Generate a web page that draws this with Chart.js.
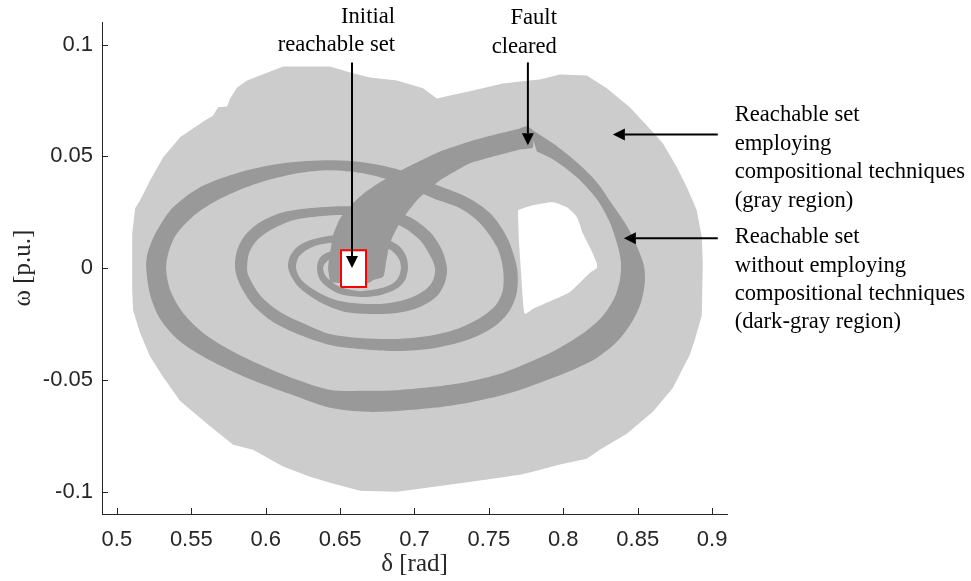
<!DOCTYPE html>
<html>
<head>
<meta charset="utf-8">
<script src="https://cdn.jsdelivr.net/npm/chart.js@4.4.1/dist/chart.umd.min.js"></script>
<style>
html, body { margin: 0; padding: 0; background: #ffffff; }
canvas { display: block; }
</style>
</head>
<body>
<canvas id="phase" width="971" height="581"></canvas>
<script>
// Axis ticks
const deltaTicks = [0.5, 0.55, 0.6, 0.65, 0.7, 0.75, 0.8, 0.85, 0.9];
const deltaTickLabels = ['0.5', '0.55', '0.6', '0.65', '0.7', '0.75', '0.8', '0.85', '0.9'];
const omegaTicks = [-0.1, -0.05, 0, 0.05, 0.1];
const omegaTickLabels = ['-0.1', '-0.05', '0', '0.05', '0.1'];

// Reachable set obtained with compositional techniques: outline (delta, omega)
const compositionalSet = [
  [0.6117,0.0902],[0.6433,0.0902],[0.6567,0.0875],[0.6701,0.0853],[0.6882,0.0839],[0.7057,0.0804],
  [0.7151,0.0759],[0.7239,0.0772],[0.7393,0.0795],[0.7594,0.0826],[0.7708,0.0835],[0.7842,0.0844],
  [0.7977,0.0866],[0.8158,0.0862],[0.8292,0.0804],[0.8447,0.0719],[0.8561,0.0638],[0.8669,0.0558],
  [0.8763,0.0451],[0.8830,0.0362],[0.8897,0.0259],[0.8931,0.0138],[0.8937,0.0013],[0.8931,-0.0210],
  [0.8884,-0.0321],[0.8850,-0.0388],[0.8736,-0.0536],[0.8602,-0.0643],[0.8427,-0.0741],[0.8245,-0.0813],
  [0.8158,-0.0853],[0.7977,-0.0879],[0.7795,-0.0911],[0.7708,-0.0924],[0.7487,-0.0946],[0.7259,-0.0967],
  [0.6882,-0.1000],[0.6634,-0.0996],[0.6433,-0.0960],[0.6298,-0.0933],[0.6117,-0.0888],[0.5915,-0.0813],
  [0.5781,-0.0790],[0.5606,-0.0696],[0.5425,-0.0594],[0.5311,-0.0487],[0.5224,-0.0397],[0.5156,-0.0290],
  [0.5109,-0.0188],[0.5103,-0.0098],[0.5103,0.0156],[0.5123,0.0268],[0.5156,0.0304],[0.5224,0.0393],
  [0.5311,0.0496],[0.5425,0.0585],[0.5573,0.0652],[0.5647,0.0683],[0.5680,0.0719],[0.5741,0.0723],
  [0.5761,0.0759],[0.5808,0.0808],[0.5875,0.0839]
];
// Unreached pocket inside the compositional set
const compositionalHole = [
  [0.7695,0.0259],[0.7795,0.0281],[0.7930,0.0295],[0.8024,0.0272],[0.8091,0.0228],[0.8131,0.0156],
  [0.8178,0.0094],[0.8225,0.0022],[0.8225,0.0000],[0.8178,-0.0022],[0.8044,-0.0107],[0.7930,-0.0143],
  [0.7795,-0.0183],[0.7742,-0.0205],[0.7728,-0.0143],[0.7715,-0.0009],[0.7701,0.0125]
];

// Reachable set without compositional techniques (dark gray)
// fault-on part, from the initial set up to fault clearing
const faultOnBand = [
  [0.6433,-0.0063],[0.6419,0.0000],[0.6433,0.0067],[0.6453,0.0147],[0.6500,0.0223],[0.6580,0.0286],
  [0.6668,0.0339],[0.6768,0.0384],[0.6950,0.0451],[0.7172,0.0522],[0.7393,0.0571],[0.7574,0.0603],
  [0.7708,0.0625],[0.7755,0.0634],[0.7795,0.0616],[0.7795,0.0540],[0.7708,0.0531],[0.7554,0.0504],
  [0.7373,0.0469],[0.7172,0.0393],[0.7017,0.0304],[0.6903,0.0205],[0.6835,0.0112],[0.6809,0.0027],
  [0.6788,-0.0040],[0.6567,-0.0071]
];
// post-fault spiral: outer edge, from fault clearing inwards
const spiralOuterEdge = [
  [0.7775,0.0625],[0.7930,0.0558],[0.8091,0.0473],[0.8225,0.0384],[0.8333,0.0281],[0.8427,0.0188],
  [0.8494,0.0098],[0.8541,0.0013],[0.8548,-0.0063],[0.8521,-0.0156],[0.8461,-0.0241],[0.8360,-0.0330],
  [0.8225,-0.0402],[0.8078,-0.0451],[0.7909,-0.0496],[0.7708,-0.0545],[0.7574,-0.0571],[0.7353,-0.0603],
  [0.7125,-0.0625],[0.6903,-0.0638],[0.6681,-0.0643],[0.6433,-0.0625],[0.6164,-0.0563],[0.5942,-0.0509],
  [0.5741,-0.0451],[0.5559,-0.0388],[0.5405,-0.0317],[0.5291,-0.0228],[0.5224,-0.0121],[0.5197,0.0000],
  [0.5203,0.0058],[0.5237,0.0125],[0.5291,0.0192],[0.5378,0.0272],[0.5559,0.0362],[0.5828,0.0429],
  [0.6117,0.0469],[0.6433,0.0482],[0.6654,0.0473],[0.6903,0.0438],[0.7172,0.0366],[0.7353,0.0317],
  [0.7507,0.0246],[0.7621,0.0138],[0.7688,0.0004],
  [0.7688,-0.0107],[0.7641,-0.0188],[0.7541,-0.0259],[0.7373,-0.0317],[0.7138,-0.0357],[0.6882,-0.0371],
  [0.6634,-0.0362],[0.6433,-0.0344],[0.6231,-0.0299],[0.6050,-0.0241],[0.5915,-0.0165],[0.5828,-0.0076],
  [0.5794,0.0000],
  [0.5808,0.0080],[0.5862,0.0147],[0.5962,0.0205],[0.6117,0.0250],[0.6365,0.0272],[0.6567,0.0277],
  [0.6768,0.0268],[0.6970,0.0228],[0.7104,0.0161],[0.7185,0.0080],[0.7218,0.0000],
  [0.7205,-0.0063],[0.7151,-0.0125],[0.7037,-0.0174],[0.6882,-0.0201],[0.6701,-0.0205],[0.6533,-0.0196],
  [0.6419,-0.0170],[0.6298,-0.0125],[0.6204,-0.0071],[0.6151,0.0000],
  [0.6164,0.0054],[0.6218,0.0098],[0.6318,0.0129],[0.6466,0.0147],[0.6634,0.0147],[0.6788,0.0134],
  [0.6889,0.0103],[0.6943,0.0054],[0.6956,0.0000],
  [0.6936,-0.0054],[0.6876,-0.0094],[0.6768,-0.0121],[0.6634,-0.0129],[0.6500,-0.0116],[0.6413,-0.0085],
  [0.6359,-0.0045],[0.6345,0.0000],
  [0.6359,0.0040],[0.6406,0.0067],[0.6500,0.0085],[0.6600,0.0089],[0.6688,0.0076],[0.6741,0.0045],
  [0.6755,0.0000],[0.6735,-0.0045],[0.6674,-0.0071],[0.6600,-0.0080]
];
// post-fault spiral: inner edge, from fault clearing inwards
const spiralInnerEdge = [
  [0.7822,0.0522],[0.7930,0.0487],[0.8091,0.0406],[0.8225,0.0308],[0.8306,0.0214],[0.8360,0.0112],
  [0.8387,0.0027],[0.8380,-0.0054],[0.8340,-0.0138],[0.8253,-0.0223],[0.8125,-0.0295],[0.7950,-0.0366],
  [0.7775,-0.0420],[0.7574,-0.0473],[0.7353,-0.0509],[0.7125,-0.0531],[0.6903,-0.0545],[0.6681,-0.0549],
  [0.6433,-0.0545],[0.6211,-0.0500],[0.5983,-0.0438],[0.5761,-0.0366],[0.5580,-0.0290],[0.5445,-0.0201],
  [0.5358,-0.0098],[0.5331,0.0000],
  [0.5351,0.0080],[0.5405,0.0156],[0.5539,0.0246],[0.5714,0.0317],[0.5942,0.0379],[0.6211,0.0424],
  [0.6433,0.0438],[0.6654,0.0424],[0.6903,0.0379],[0.7125,0.0313],[0.7306,0.0268],[0.7440,0.0201],
  [0.7554,0.0094],[0.7594,0.0000],
  [0.7594,-0.0098],[0.7547,-0.0165],[0.7440,-0.0223],[0.7285,-0.0272],[0.7091,-0.0304],[0.6882,-0.0317],
  [0.6634,-0.0313],[0.6433,-0.0295],[0.6278,-0.0254],[0.6097,-0.0196],[0.5962,-0.0121],[0.5882,-0.0031],
  [0.5875,0.0000],
  [0.5888,0.0067],[0.5942,0.0125],[0.6043,0.0174],[0.6184,0.0214],[0.6365,0.0232],[0.6567,0.0237],
  [0.6755,0.0223],[0.6923,0.0183],[0.7037,0.0125],[0.7104,0.0058],[0.7138,0.0000],
  [0.7125,-0.0054],[0.7071,-0.0098],[0.6970,-0.0134],[0.6835,-0.0156],[0.6681,-0.0161],[0.6533,-0.0152],
  [0.6433,-0.0134],[0.6305,-0.0089],[0.6231,-0.0045],[0.6204,0.0000],
  [0.6218,0.0045],[0.6264,0.0076],[0.6352,0.0103],[0.6480,0.0116],[0.6634,0.0116],[0.6768,0.0103],
  [0.6849,0.0076],[0.6896,0.0040],[0.6909,0.0000],
  [0.6889,-0.0045],[0.6835,-0.0076],[0.6748,-0.0094],[0.6634,-0.0103],[0.6520,-0.0089],[0.6446,-0.0063],
  [0.6399,-0.0031],[0.6386,0.0000],
  [0.6399,0.0022],[0.6433,0.0040],[0.6506,0.0054],[0.6600,0.0058],[0.6661,0.0049],[0.6701,0.0027],
  [0.6715,0.0000],[0.6701,-0.0022],[0.6647,-0.0045],[0.6600,-0.0054]
];

// Initial reachable set (box)
const initialDelta = [0.6506, 0.6674];
const initialOmega = [-0.0085, 0.0080];

// Callouts: text lines with their anchors, and arrows (delta, omega)
const notes = [
  { lines: ['Initial', 'reachable set'], x: 0.6869, y: [0.1096, 0.0969], align: 'right' },
  { lines: ['Fault', 'cleared'], x: 0.7957, y: [0.1094, 0.0964], align: 'right' },
  { lines: ['Reachable set', 'employing', 'compositional techniques', '(gray region)'],
    x: 0.9152, y: [0.0656, 0.0529, 0.0402, 0.0275], align: 'left' },
  { lines: ['Reachable set', 'without employing', 'compositional techniques', '(dark-gray region)'],
    x: 0.9152, y: [0.0112, -0.0016, -0.0143, -0.0270], align: 'left' }
];
const arrows = [
  { from: [0.6580, 0.0920], to: [0.6580, 0.0000] },
  { from: [0.7762, 0.0920], to: [0.7762, 0.0549] },
  { from: [0.9038, 0.0598], to: [0.8333, 0.0598] },
  { from: [0.9038, 0.0134], to: [0.8407, 0.0134] }
];

const LIGHT = '#cccccc';
const DARK = '#999999';

function region(points, color, order, tension) {
  return {
    data: points.map(p => ({ x: p[0], y: p[1] })),
    showLine: true,
    fill: 'shape',
    tension: tension || 0,
    backgroundColor: color,
    borderColor: 'rgba(0,0,0,0)',
    borderWidth: 0,
    pointRadius: 0,
    pointHoverRadius: 0,
    order: order
  };
}

// closed spiral band: outer edge forward, inner edge back
const spiralBand = spiralOuterEdge.concat(spiralInnerEdge.slice().reverse());

const initialBox = [
  [initialDelta[0], initialOmega[0]], [initialDelta[1], initialOmega[0]],
  [initialDelta[1], initialOmega[1]], [initialDelta[0], initialOmega[1]],
  [initialDelta[0], initialOmega[0]]
];

const datasets = [
  region(compositionalSet, LIGHT, 10),
  region(compositionalHole, '#ffffff', 9, 0.2),
  region(spiralBand, DARK, 8, 0.3),
  region(faultOnBand, DARK, 7, 0.15),
  Object.assign(region(initialBox, '#ffffff', 1), { borderColor: '#ff0000', borderWidth: 2 })
];

// Inward tick marks, as on the original axes
const innerTicks = {
  id: 'innerTicks',
  afterDraw(chart) {
    const { ctx, chartArea: a, scales: { x, y } } = chart;
    ctx.save();
    ctx.strokeStyle = '#262626';
    ctx.lineWidth = 1;
    ctx.beginPath();
    deltaTicks.forEach(v => {
      const px = Math.round(x.getPixelForValue(v)) + 0.5;
      ctx.moveTo(px, a.bottom);
      ctx.lineTo(px, a.bottom - 6);
    });
    omegaTicks.forEach(v => {
      const py = Math.round(y.getPixelForValue(v)) + 0.5;
      ctx.moveTo(a.left, py);
      ctx.lineTo(a.left + 6, py);
    });
    ctx.stroke();
    ctx.restore();
  }
};

// Callout arrows and their captions
const callouts = {
  id: 'callouts',
  afterDraw(chart) {
    const { ctx, scales: { x, y } } = chart;
    ctx.save();
    ctx.strokeStyle = '#000000';
    ctx.fillStyle = '#000000';
    ctx.lineWidth = 2;
    arrows.forEach(ar => {
      const x0 = x.getPixelForValue(ar.from[0]), y0 = y.getPixelForValue(ar.from[1]);
      const x1 = x.getPixelForValue(ar.to[0]), y1 = y.getPixelForValue(ar.to[1]);
      const ang = Math.atan2(y1 - y0, x1 - x0);
      const head = 12, half = 6;
      const bx = x1 - head * Math.cos(ang), by = y1 - head * Math.sin(ang);
      ctx.beginPath();
      ctx.moveTo(x0, y0);
      ctx.lineTo(bx, by);
      ctx.stroke();
      ctx.beginPath();
      ctx.moveTo(x1, y1);
      ctx.lineTo(bx + half * Math.sin(ang), by - half * Math.cos(ang));
      ctx.lineTo(bx - half * Math.sin(ang), by + half * Math.cos(ang));
      ctx.closePath();
      ctx.fill();
    });
    ctx.font = '22.6px "Liberation Serif"';
    ctx.textBaseline = 'alphabetic';
    notes.forEach(n => {
      ctx.textAlign = n.align;
      n.lines.forEach((t, i) => {
        ctx.fillText(t, x.getPixelForValue(n.x), y.getPixelForValue(n.y[i]));
      });
    });
    ctx.restore();
  }
};

new Chart(document.getElementById('phase'), {
  type: 'scatter',
  data: { datasets },
  plugins: [innerTicks, callouts],
  options: {
    responsive: false,
    devicePixelRatio: 1,
    animation: false,
    events: [],
    layout: { padding: { top: 22, right: 244, bottom: 0, left: 0 } },
    plugins: { legend: { display: false }, tooltip: { enabled: false } },
    scales: {
      x: {
        type: 'linear',
        min: 0.49,
        max: 0.91,
        afterBuildTicks: s => { s.ticks = deltaTicks.map(v => ({ value: v })); },
        afterFit: s => { s.height = 67; },
        grid: { display: false, drawTicks: false },
        border: { display: true, color: '#262626', width: 1 },
        ticks: {
          autoSkip: false,
          maxRotation: 0,
          padding: 13,
          color: '#262626',
          font: { family: 'Liberation Sans', size: 22 },
          callback: (v, i) => deltaTickLabels[i]
        },
        title: {
          display: true,
          text: 'δ [rad]',
          color: '#262626',
          font: { family: 'Liberation Serif', size: 25 },
          padding: { top: 0, bottom: 2 }
        }
      },
      y: {
        type: 'linear',
        min: -0.11,
        max: 0.11,
        afterBuildTicks: s => { s.ticks = omegaTicks.map(v => ({ value: v })); },
        afterFit: s => { s.width = 102; },
        grid: { display: false, drawTicks: false },
        border: { display: true, color: '#262626', width: 1 },
        ticks: {
          autoSkip: false,
          padding: 9,
          color: '#262626',
          font: { family: 'Liberation Sans', size: 22 },
          callback: (v, i) => omegaTickLabels[i]
        },
        title: {
          display: true,
          text: 'ω [p.u.]',
          color: '#262626',
          font: { family: 'Liberation Serif', size: 25 },
          padding: { top: 8, bottom: 0 }
        }
      }
    }
  }
});
</script>
</body>
</html>
